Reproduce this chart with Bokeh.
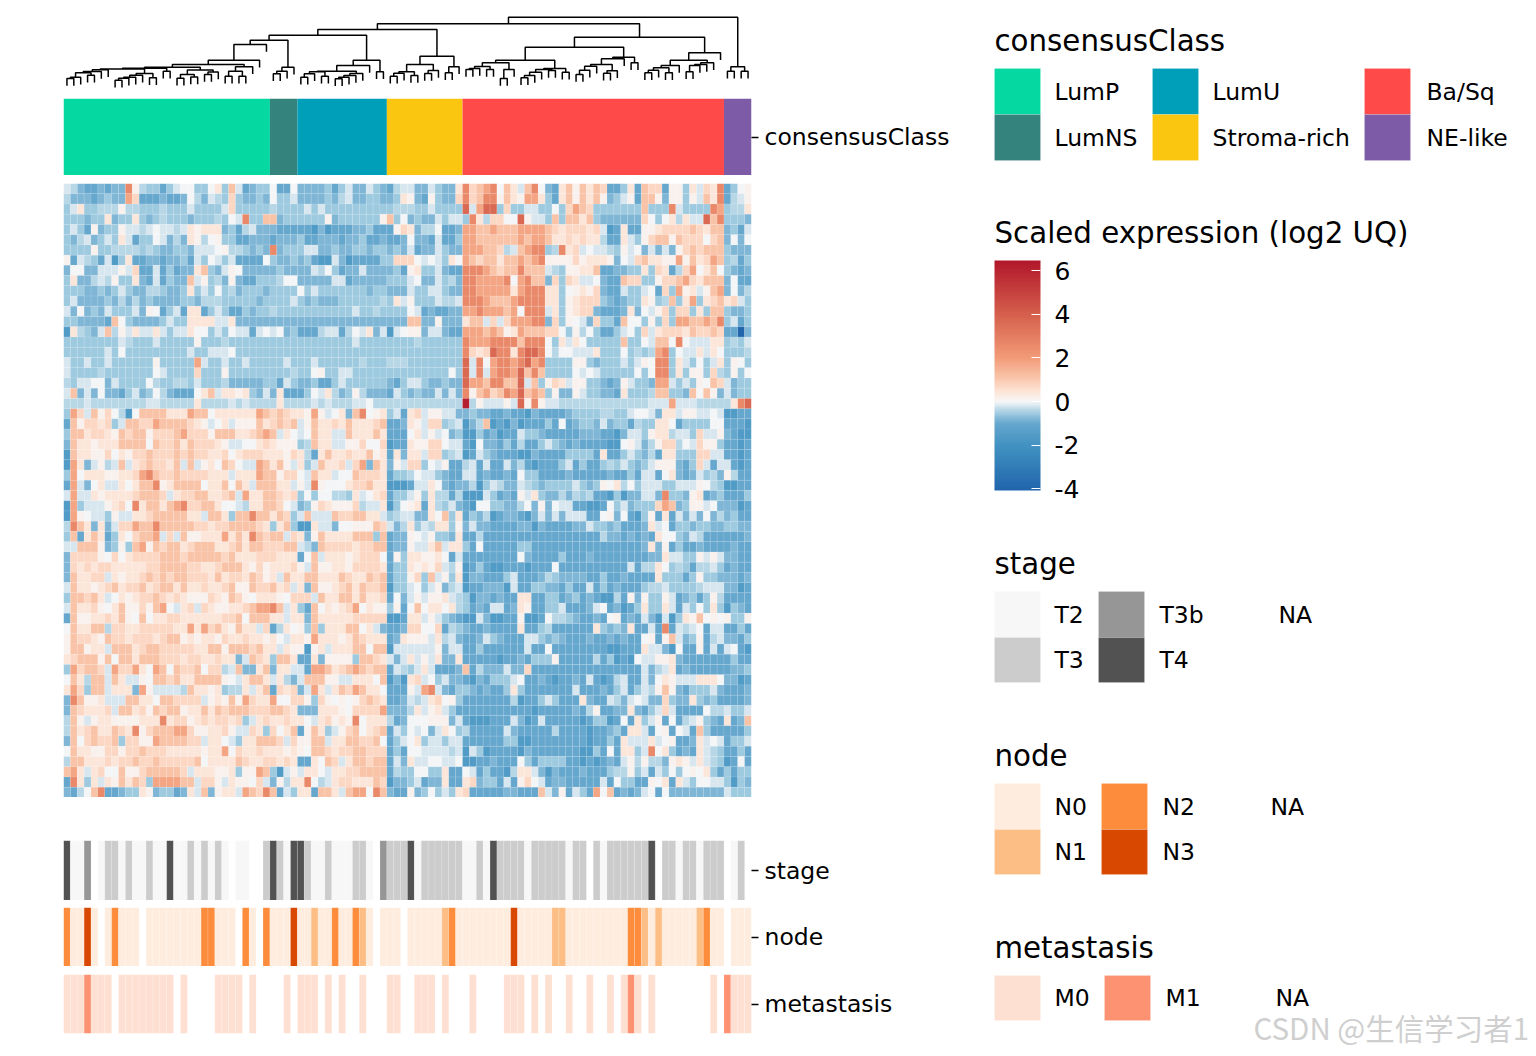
from bokeh.embed import file_html
from bokeh.resources import INLINE
from bokeh.plotting import figure
from bokeh.layouts import column, row
from bokeh.models import Range1d, FactorRange, LinearColorMapper, ColorBar, FixedTicker, ColumnDataSource
from bokeh.core.properties import value
import numpy as np

# ---------- data ----------
class_names = ["LumP", "LumNS", "LumU", "Stroma-rich", "Ba/Sq", "NE-like"]
class_counts = [30, 4, 13, 11, 38, 4]
class_colors = ["#05D8A0", "#34837C", "#009FB9", "#FBC60F", "#FF4A4A", "#7E5BA6"]

stage_track = "422b.23323" "2232242232" "3232.22..3" "4324432232" "22332.b333" "4233333322" "3243333233" "333233.323" "333334.332" "332333.23."
node_track = "20030.0200" "0.00000000" "22000.20.2" "0003001002" "00210.000." "0000012000" "0000030000" "0110000000" "0022101000" "001200.000"
meta_track = "0001000.00" "000000.0.." "..0000.0.." "..0.000.0." "0..0...00." ".000.0...0" "....000.0." "0..0..0..0" ".010.0...." "....0.1000"

stage_colors = {"2": "#F7F7F7", "3": "#CCCCCC", "b": "#969696", "4": "#525252"}
node_colors = {"0": "#FEEDDE", "1": "#FDBE85", "2": "#FD8D3C", "3": "#D94801"}
meta_colors = {"0": "#FEE0D2", "1": "#FC9272"}

# each character is one cell; level_values gives its scaled expression
level_values = {"f": -4.0, "0": -1.6, "1": -1.0, "2": -0.8, "3": -0.55, "4": -0.38, "5": -0.2, "6": 0.0,
                "7": 0.15, "8": 0.42, "9": 0.72, "a": 1.15, "b": 1.8, "c": 2.6, "d": 3.7, "e": 6.2}
heat_rows = [
"542112122c 7433135663 3683a51233 6116222231 3522532145 52253228c9 abc6a85ac6 218a7a8a91 1381a99177 38598c1367",
"422212322b 9111211264 2543932232 6335222232 4522332238 72173229c9 acc7a87bb8 318a7a8a72 3571aa7277 375a8c1457",
"3583344474 4333433353 3335933333 4333353533 3333333344 43353333d5 bdd3933553 3639ba9333 3333a333c5 3333cb3448",
"3332338233 8323433323 334365c33a a233333372 3333337a36 232253553c 849966d755 3a3aa8a322 2222963684 855dac3332",
"3531723375 5456554587 8882314522 2111110201 1122311179 82446112bb aabaaabbbb a989998950 1811778999 9a98aa2315",
"3245235385 1336524287 4673311222 1222311222 1223112112 62215113bb aaaaaababb a889898841 185379aa7a 99969a2626",
"3333733444 4343223325 5567443232 c233355223 2233233232 51225322bb baa945abcc 34c8956554 3756252527 9a9aaa3222",
"7154315038 1122122315 3653511116 3223231005 2011113399 96565386ba 9aa8aababc 7777978887 2659a8877b 7a89ba3413",
"2662255575 9115131228 a325762222 2322225463 1225222231 78335211cc cba9aacaaa 5437788a11 2233839814 9b68a63212",
"3822454733 82151322a5 7342721133 3466222225 5122222333 56225342cc bbbbc6bcaa 2939855621 1a9933799a b98aaa2611",
"3332232353 2244322383 5363423332 3333635333 3333233222 53355322cc bbbbb8bccc 8836787921 153356193b 7857ab2624",
"3522223242 4232222332 4443333323 3335323222 3333334385 73335445cc cbaaabcccc 8837899932 12338734a3 8b389a8953",
"5262325333 5276135188 1353113233 4333333333 3353343333 65121122bb cbbbab6ccc 5837899211 1282657939 9383aa3223",
"3322221a63 2222353388 8855822222 2222222222 2222222222 aa2272228a a5959bbbcc 2937652933 1a6637393b baabac3513",
"084325a475 8558535586 6353655156 5623111455 1465825056 77255211bb baba78baaa 9963746311 3563958999 8a99a911f2",
"3333333354 3335333337 3334333333 3333333333 3353333333 34333333cb bbccccaccc 6385863333 3a3365aa6c 6555883435",
"3333335363 3333333353 3555633333 3333333333 3333333333 33333333c9 89dcc8cddc 6466555833 363434bc36 5585863334",
"5335335333 333733333b 5335335333 3353335333 3334333444 33333333d5 c6bccbcdbc 3333773233 353576cc38 5363583763",
"5333343333 3336533339 3337333333 3334336733 5533333333 33333363d5 c5bccbdaca 3333656533 333636cc38 3773943736",
"4355662533 3364334435 3334222223 3153223113 5333333213 55322322db baccaad5a3 7985773321 275332bb53 5376a95233",
"5a25262213 5236421116 8a58878325 2811136584 2374222153 23225252c7 ab9acbdaba 3722753322 183334aa33 2a6a725233",
"4445444444 4455444448 4444545444 4844445454 4455644444 44444444e4 755575d7c7 5544444444 44444555b5 55444448cd",
"3b95a79640 6aaaa888ba a6888888ba 9a9887b756 82ac678351 8957755223 2211211021 1112333344 3356652885 7755650011",
"1a7998935a a99baaaa98 75685777a8 9a9a57a889 8a8889a112 8759934502 4a01020111 3161233252 3314338861 3333661110",
"3aa89987a9 aa7999ab99 97aaa889ab a58656a885 5a888a8111 6857562300 3120115332 1111122211 0255378845 5395572100",
"2a887888aa aa6a99a8a9 9987556689 877734a885 5779669011 8779965510 6221314113 5321211110 0675247994 6597731101",
"0a88779687 99a999a9a9 9889689998 88798418a8 8988a78182 8859934501 5321110021 1113333181 1353241883 3399551101",
"0b825745a5 89a998a5a5 786a9655ba 8a75835a88 959b2a8275 9936571145 1511524101 1135131134 3532357772 1395155101",
"3b68887788 9bca99a999 98885888ba a79965a885 66a9998133 4655321155 1211216331 1112111112 1131551682 1253427411",
"1b52685586 8aac78aaaa 688a6a85aa a88575c766 6899a88000 1558621224 0354225432 3333532376 8463555335 5576430011",
"5b55878888 9aaa95899a a889a5b88a a989363664 4385689133 5738441400 0531217583 2242434110 3022552c33 2781231113",
"0b35557896 c8aa8abc99 aa8665488a a965237987 7794558036 7818435210 6633224627 2655110016 3523339ba2 3775622201",
"0b76553755 889aaaaa88 5aa83aacaa 8a935a555a 99aa885345 52286a3813 2401221025 2525551167 2610371815 2526242311",
"4ca8282599 baacaaaaa9 9899aaaa98 38a3008552 66777a9524 8354883725 2211112202 1111225332 3111285613 3233223322",
"3a18a81386 9aab595a77 888b8a8ca9 aa59827a88 88aaa3a122 7657332811 4111111111 1111111142 2121218663 2541111112",
"55aaa72373 ab7a9aa89a aa889a8aa9 99aa542a99 99899aa122 7558a58831 6111113311 1111111111 1111282713 1121111211",
"2999976968 9999aaa9aa aaa9a88899 988816a588 8789996173 8877861511 1111116211 1131112111 1111122855 3375752211",
"2989899888 8899aaaa99 889aaa8797 888975a778 8799998133 8787954701 3100111011 1611111111 1151448634 3144531211",
"2a88995878 89a9a9aa99 98a8998a97 85a88aa888 a988a9a133 793a573802 2111351112 4322221131 1211118333 1373322212",
"5a88789a89 9a89aa8a88 9889a77a99 a89582a778 9a8a99a033 5635724501 1222051133 2213115131 2111344533 3345552201",
"3aa9a85687 899a989877 7987a97688 8769995a88 aa8a889162 5757785430 2212118811 3312312100 4172733751 2313741111",
"5a889768a7 797ab65895 9877889abb ca5831a687 89b6877371 6a68868431 2155128711 3351112561 2013833851 5363830321",
"1a778898a7 6a68899888 88899a6aaa 885882a888 8899999001 8857532100 5200117001 6443211216 7121520503 87a6767337",
"6a88aa4998 89999988b8 b9a87a8859 148673a388 8aa6852112 9966914321 1211118113 4111111832 3281151c15 4561551131",
"7a9987a998 99989aa787 8879889887 865887b888 78a9888128 7775845211 2532111553 2321112112 12116717a5 2371452213",
"7aa7885aaa 89aa999998 8aa7aaa9a8 8587707858 88aa6aa055 5555725511 3111111511 6111111110 0111855206 1171515610",
"89aaa7a6aa 8aaa999899 8898825a98 3aa8118277 773aa98525 8575822811 1110112133 3711111413 0106557782 1111111311",
"3b9aa95b99 b86ba6a99a 69945a228a 288551bba8 9aba9aa154 35851112a1 4222522911 1111111111 1111524581 2111111223",
"6a84aa5a85 576aa9a88a aaa7658aa8 58425aaa77 558886a020 8956352210 2133356112 1011215101 4511526875 5588862201",
"8b93aa5888 2b755554a8 878344858a 198925b858 a9ba886111 75bc521332 1211383111 1111511121 3513547a72 1333521112",
"2ca778555a a886aa9999 5787a7b988 b669973976 7679a98112 5458967311 1111140113 5311182115 4256522932 2832311112",
"2a988895aa 897a9aa788 a8a9aaa999 aa98222888 769999b222 4857853111 1111111101 1111214711 2282135951 1116445335",
"4a75788777 7888c89978 9899893589 8898865897 87c6888412 6667772510 0011152015 1111101330 1618357161 457321812a",
"4a89a88a98 c79aaabb97 7889755983 968a17a835 79a689a153 6562586341 1111521111 1411110112 3188516716 51a3111113",
"2a69a99a39 977baaaa99 58865388aa a95977aa58 8aa99a6135 6835535511 1111330011 1111110113 1855585671 1285651335",
"6a88779979 9a99988888 788b698898 887876aa98 99aa999131 6655554505 3011110211 1111100316 18835c6831 2185431131",
"4aa8889899 a99a99999a 68888a9889 98981186a9 58aa9aa152 8556655600 1121116313 3331101012 1574744278 7585430161",
"ab858966a7 79aaaaa958 88778377ba 3057588658 899aaaa143 3663381165 1311048852 0211121113 4473515363 6768313133",
"1c838587a8 a93bbbbaa5 9975877695 27488c6458 99888a9022 3512281189 2331517965 1221111151 6331176818 5366553032",
"2146ac1123 3872331285 a27885ba9c a153881aa8 5abb6ca211 7236353891 111122111a 5271531b6a 1212561622 2222225333",
]

# dendrogram: (merge height, left, right); 0 is a leaf, leaves run left to right
leaf_hang = 7.3
d_a = (21.7, (20, (18.7, (14.3, (13, 0, 0), 0), (16.3, 0, 0)), 0), 0)
d_b = (18, (16.3, (14.3, (13.3, (11.3, 0, 0), 0), 0), 0), (13.7, 0, 0))
d_f = (23.3, (22.5, d_a, d_b), (20.3, 0, 0))
d_c = (21.5, (17, (13.3, 0, 0), (14.5, 0, 0)), (19.5, (17, 0, 0), 0))
d_d = (24.7, (20.3, (15.3, 0, 0), (15.3, 0, 0)), 0)
d_t = (47, (31.3, (27, (24.3, d_f, d_c), d_d), 0), 0)
d_s = (24.3, (20.3, (17.7, 0, 0), 0), 0)
d_g = (31.3, (26, (20.3, (19.7, (17.7, (14.3, 0, 0), 0), (15.3, 0, 0)),
                  (18, (16, (14.3, (12.7, 0, 0), 0), 0), 0)), 0), (19.7, 0, 0))
d_w = (56.3, (51.3, d_t, d_s), d_g)
d_k = (35.3, (27, (19.7, (18.3, (15.3, 0, 0), 0), (16, 0, 0)), (21, (18, 0, 0), 0)), (24.7, (18.7, 0, 0), 0))
d_n1 = (28.7, (25, (23, (22, 0, 0), 0), (22, 0, 0)), (22, (13, 0, 0), 0))
d_n2 = (23, (22, (19.3, (16, (13.7, 0, 0), 0), 0), (21, 0, 0)), (19.3, 0, 0))
d_r = (34.3, (32.7, (27, (25.3, (21.3, (17, 0, 0), 0), 0), (20.7, (18.3, 0, 0), 0)), 0), (28.7, 0, 0))
d_h3 = (26, (23.7, (21.3, (18.7, 0, 0), 0), (18.7, 0, 0)), 0)
d_i3 = (28.7, (27, (26, (19.7, 0, 0), 0), 0), 0)
d_z = (54.3, (44.3, (31.3, d_n1, d_n2), d_r), (38.7, (31.3, d_h3, d_i3), 0))
d_ne = (24.7, (20.3, 0, 0), (20.3, 0, 0))
dend_root = (74.3, (67.7, (62, d_w, d_k), d_z), d_ne)

colorbar_ticks = [-4, -2, 0, 2, 4, 6]
bar_low, bar_high = -4.07, 6.46

# ---------- colour scale ----------
anchor_vals = [-4.07, -2, -1, -0.5, 0, 0.5, 1, 2, 4, 6.46]
anchor_cols = ["#2166AC", "#4393C3", "#67A8CF", "#A6CFE3", "#F7F7F7", "#FDE3D5", "#FBC9B0", "#F39C78", "#D6604D", "#B2182B"]
def _rgb(h):
    return [int(h[i:i + 2], 16) for i in (1, 3, 5)]
_grid = np.linspace(bar_low, bar_high, 256)
_chan = [np.interp(_grid, anchor_vals, [_rgb(c)[k] for c in anchor_cols]) for k in range(3)]
palette = ["#%02X%02X%02X" % (int(r), int(g), int(b)) for r, g, b in zip(*_chan)]
mapper = LinearColorMapper(palette=palette, low=bar_low, high=bar_high)

FONT = "DejaVu Sans"
LABEL = "23.5px"
TITLE = "29.3px"
RIGHT_BORDER = 205

def panel(h, top=0, bottom=0, x_range=(0, 100), y_range=None, axis=False):
    p = figure(frame_width=688, frame_height=h, min_border_left=63, min_border_right=RIGHT_BORDER,
               min_border_top=top, min_border_bottom=bottom, x_range=Range1d(*x_range),
               y_range=y_range, x_axis_location=None, y_axis_location="right" if axis else None,
               toolbar_location=None, tools="", output_backend="svg", outline_line_color=None)
    p.grid.visible = False
    if axis:
        ax = p.yaxis[0]
        ax.axis_line_color = None
        ax.major_tick_line_color = "black"
        ax.major_tick_line_width = 1.5
        ax.major_tick_out = 7
        ax.major_tick_in = 0
        ax.major_label_standoff = 6
        ax.major_label_text_font = FONT
        ax.major_label_text_font_size = LABEL
        ax.major_label_text_color = "black"
    return p

# ---------- dendrogram ----------
xs, ys = [], []
_next = [0]
def walk(node):
    if node == 0:
        _next[0] += 1
        return _next[0] - 0.5, None
    h, l, r = node
    xl, hl = walk(l)
    xr, hr = walk(r)
    xs.append([xl, xl, xr, xr])
    ys.append([h - leaf_hang if hl is None else hl, h, h, h - leaf_hang if hr is None else hr])
    return (xl + xr) / 2, h
walk(dend_root)
p_dend = panel(91, top=7, y_range=Range1d(-7, 84))
p_dend.multi_line(xs, ys, line_color="black", line_width=1.5)

# ---------- consensus bar ----------
p_cons = panel(77, y_range=FactorRange("consensusClass"), axis=True)
edges = np.cumsum([0] + class_counts)
p_cons.hbar(y=["consensusClass"] * 6, left=edges[:-1], right=edges[1:], height=1.0,
            fill_color=class_colors, line_color=None)

# ---------- heatmap ----------
cx, cy, cv = [], [], []
for j, raw in enumerate(heat_rows):
    r = raw.replace(" ", "")
    assert len(r) == 100, (j, len(r))
    for i, ch in enumerate(r):
        cx.append(i + 0.5)
        cy.append(j + 0.5)
        cv.append(level_values[ch])
p_heat = panel(614, top=8, y_range=Range1d(60, 0))
p_heat.rect(x="x", y="y", width=1, height=1, source=ColumnDataSource(dict(x=cx, y=cy, v=cv)),
            fill_color={"field": "v", "transform": mapper}, line_color="white", line_alpha=0.2, line_width=0.5)

# ---------- annotation tracks ----------
def track(name, codes, colors, h, top, bottom=0):
    p = panel(h, top=top, bottom=bottom, y_range=FactorRange(name), axis=True)
    idx = [i for i, c in enumerate(codes) if c in colors]
    p.hbar(y=[name] * len(idx), left=idx, right=[i + 1 for i in idx], height=1.0,
           fill_color=[colors[codes[i]] for i in idx], line_color="white", line_alpha=0.3, line_width=0.5)
    return p

p_stage = track("stage", stage_track, stage_colors, 60, 43)
p_node = track("node", node_track, node_colors, 59, 7)
p_meta = track("metastasis", meta_track, meta_colors, 59, 8, 14)

# ---------- legends (positions are page pixels) ----------
leg = figure(width=578, height=1054, x_range=Range1d(957, 1535), y_range=Range1d(1055, 1),
             x_axis_location=None, y_axis_location=None, toolbar_location=None, tools="",
             output_backend="svg", outline_line_color=None, min_border=0)
leg.grid.visible = False

def title(x, y, s):
    leg.text(x=[x], y=[y], text=[s], text_font=value(FONT), text_font_size=value(TITLE),
             text_baseline="middle", text_color="black")

def swatches(entries):
    for x0, y0, x1, y1, col, lx, lab in entries:
        if col:
            leg.quad(left=[x0], right=[x1], top=[y0], bottom=[y1], fill_color=col, line_color="white",
                     line_alpha=0.3, line_width=0.5)
        leg.text(x=[lx], y=[(y0 + y1) / 2], text=[lab], text_font=value(FONT), text_font_size=value(LABEL),
                 text_baseline="middle", text_color="black")

title(995, 41, "consensusClass")
swatches([
    (995, 69, 1041, 115, class_colors[0], 1055, class_names[0]),
    (995, 115, 1041, 161, class_colors[1], 1055, class_names[1]),
    (1153, 69, 1199, 115, class_colors[2], 1213, class_names[2]),
    (1153, 115, 1199, 161, class_colors[3], 1213, class_names[3]),
    (1365, 69, 1411, 115, class_colors[4], 1427, class_names[4]),
    (1365, 115, 1411, 161, class_colors[5], 1427, class_names[5]),
])

title(995, 233, "Scaled expression (log2 UQ)")
cb = ColorBar(color_mapper=mapper, location=(38, 564), width=46, height=230, padding=0, margin=0,
              ticker=FixedTicker(ticks=colorbar_ticks), major_label_text_font=FONT,
              major_label_text_font_size="25px", major_label_text_color="black", label_standoff=14,
              major_label_overrides={t: str(t) for t in colorbar_ticks},
              major_tick_line_color="white", major_tick_in=9, major_tick_line_width=1, bar_line_color=None,
              minor_tick_line_color=None, title=None, background_fill_color=None, border_line_color=None)
leg.add_layout(cb)
tick_y = [271 + (6 - t) * 21.85 for t in colorbar_ticks]
leg.segment(x0=[995] * 6, x1=[1004] * 6, y0=tick_y, y1=tick_y, line_color="white", line_width=1)

title(995, 564, "stage")
swatches([
    (995, 592, 1041, 638, stage_colors["2"], 1055, "T2"),
    (995, 638, 1041, 683, stage_colors["3"], 1055, "T3"),
    (1099, 592, 1145, 638, stage_colors["b"], 1160, "T3b"),
    (1099, 638, 1145, 683, stage_colors["4"], 1160, "T4"),
    (1220, 592, 1266, 638, None, 1279, "NA"),
])

title(995, 756, "node")
swatches([
    (995, 784, 1041, 830, node_colors["0"], 1055, "N0"),
    (995, 830, 1041, 875, node_colors["1"], 1055, "N1"),
    (1102, 784, 1148, 830, node_colors["2"], 1163, "N2"),
    (1102, 830, 1148, 875, node_colors["3"], 1163, "N3"),
    (1212, 784, 1258, 830, None, 1271, "NA"),
])

title(995, 948, "metastasis")
swatches([
    (995, 976, 1041, 1021, meta_colors["0"], 1055, "M0"),
    (1105, 976, 1151, 1021, meta_colors["1"], 1166, "M1"),
    (1215, 976, 1261, 1021, None, 1276, "NA"),
])

leg.text(x=[1254], y=[1027], text=["CSDN @生信学习者1"], text_font=value("Noto Sans CJK SC"),
         text_font_size=value("29.5px"), text_baseline="middle", text_color="#CFCFCF")

page = row(column(p_dend, p_cons, p_heat, p_stage, p_node, p_meta), leg)
open("out.html", "w").write(file_html(page, INLINE))
